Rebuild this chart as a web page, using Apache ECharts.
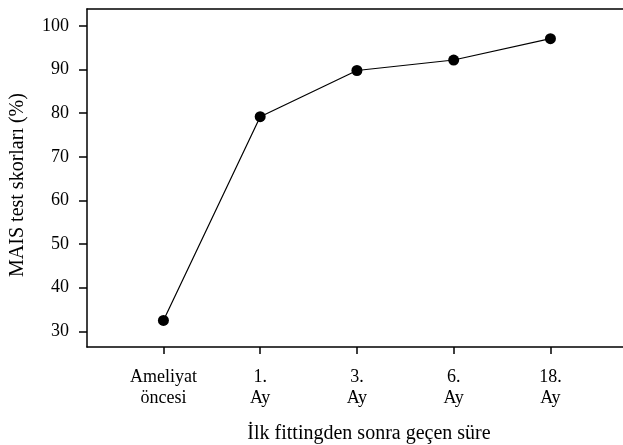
<!DOCTYPE html>
<html>
<head>
<meta charset="utf-8">
<script src="https://cdn.jsdelivr.net/npm/echarts@6/dist/echarts.min.js"></script>
<style>html,body{margin:0;padding:0;background:#fff;overflow:hidden;}#c{width:623px;height:445px;}</style>
</head>
<body>
<div id="c"></div>
<script>
const categories = ['Ameliyat\nöncesi', '1.\nAy', '3.\nAy', '6.\nAy', '18.\nAy'];
const scores = [32.5, 79.2, 89.8, 92.2, 97.1];
const yTicks = [30, 40, 50, 60, 70, 80, 90, 100];
const xTicks = [0, 1, 2, 3, 4];
const xTitle = 'İlk fittingden sonra geçen süre';
const yTitle = 'MAIS test skorları (%)';

const font = 'Liberation Serif';
const chart = echarts.init(document.getElementById('c'), null, {renderer: 'canvas'});
chart.setOption({
  animation: false,
  backgroundColor: '#fff',
  grid: {left: 87, top: 9, right: 0, bottom: 98, containLabel: false, outerBoundsMode: 'none'},
  xAxis: [{
    type: 'value', min: -0.79, max: 4.75, position: 'bottom',
    name: xTitle, nameLocation: 'middle', nameGap: 77,
    nameTextStyle: {fontFamily: font, fontSize: 20, color: '#000', padding: [0, 0, 0, 28]},
    axisLine: {show: true, onZero: false, lineStyle: {color: '#000', width: 1.5}},
    axisTick: {show: true, length: 7, customValues: xTicks, lineStyle: {color: '#000', width: 1.5}},
    axisLabel: {customValues: xTicks, formatter: v => categories[Math.round(v)] || '', margin: 20,
      fontFamily: font, fontSize: 18, color: '#000', lineHeight: 21},
    splitLine: {show: false}
  }, {
    type: 'value', min: -0.79, max: 4.75, position: 'top',
    axisLine: {show: true, onZero: false, lineStyle: {color: '#000', width: 1.5}},
    axisTick: {show: false}, axisLabel: {show: false}, splitLine: {show: false}
  }],
  yAxis: {
    type: 'value', min: 26.4, max: 103.9,
    axisLine: {show: true, onZero: false, lineStyle: {color: '#000', width: 1.5}},
    axisTick: {show: true, length: 8, customValues: yTicks, lineStyle: {color: '#000', width: 1.5}},
    axisLabel: {customValues: yTicks, margin: 18, fontFamily: font, fontSize: 18, color: '#000'},
    splitLine: {show: false}
  },
  graphic: [{
    type: 'text', x: 18, y: 185, rotation: Math.PI / 2,
    style: {text: yTitle, fontFamily: font, fontSize: 20, fill: '#000', align: 'center', verticalAlign: 'middle'}
  }],
  series: [{
    type: 'line', xAxisIndex: 0,
    data: scores.map((v, i) => [i, v]),
    symbol: 'circle', symbolSize: 11,
    itemStyle: {color: '#000'},
    lineStyle: {color: '#000', width: 1.2}
  }]
});
</script>
</body>
</html>
